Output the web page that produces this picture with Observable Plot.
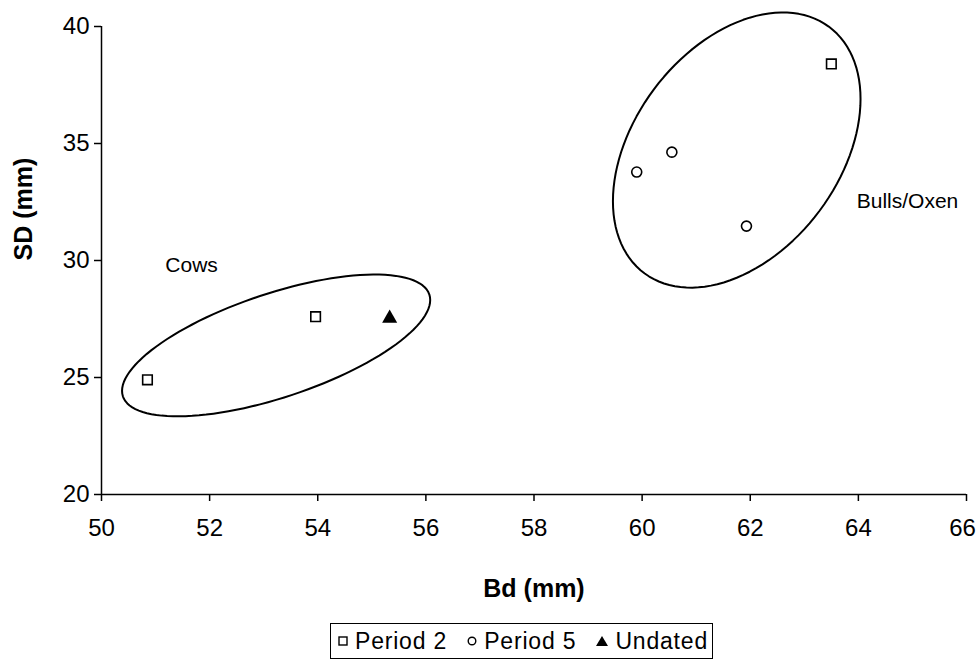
<!DOCTYPE html>
<html>
<head>
<meta charset="utf-8">
<script src="https://cdn.jsdelivr.net/npm/d3@7"></script>
<script src="https://cdn.jsdelivr.net/npm/@observablehq/plot@0.6"></script>
<style>
  html, body { margin: 0; padding: 0; background: #fff; }
  body { width: 976px; height: 667px; position: relative; font-family: "Liberation Sans", Arial, sans-serif; }
  #chart svg { display: block; }
  .legend {
    position: absolute; left: 330px; top: 623px; width: 383px; height: 36px;
    border: 1.5px solid #000; box-sizing: border-box;
    display: flex; align-items: center; justify-content: space-between; padding: 0 4px 0 6px;
    font-size: 23px; letter-spacing: 0.8px; color: #000; white-space: nowrap;
  }
  .legend .item { display: flex; align-items: center; }
  .legend svg { margin-right: 6px; }
</style>
</head>
<body>
<div id="chart"></div>
<div class="legend" id="legend"></div>
<script>
// Measurements (mm): Bd = distal breadth, SD = shaft depth
const period2Bd = [50.85, 53.96, 63.5];
const period2SD = [24.9, 27.6, 38.4];
const period5Bd = [59.9, 60.55, 61.93];
const period5SD = [33.78, 34.63, 31.47];
const undatedBd = [55.33];
const undatedSD = [27.53];

const seriesNames = ["Period 2", "Period 5", "Undated"];
const xTicks = [50, 52, 54, 56, 58, 60, 62, 64, 66];
const yTicks = [20, 25, 30, 35, 40];

// Group outlines: centre, half-extents along each axis and phase offset (data units)
const groupNames = ["Cows", "Bulls/Oxen"];
const groupCx = [53.23, 61.75];
const groupCy = [26.37, 34.72];
const groupRx = [2.85, 2.29];
const groupRy = [3.03, 5.88];
const groupPhase = [0.876, 1.19];
const groupLabelX = [51.18, 63.97];
const groupLabelY = [29.8, 32.55];

const points = [
  ...period2Bd.map((bd, i) => ({series: "Period 2", bd, sd: period2SD[i]})),
  ...period5Bd.map((bd, i) => ({series: "Period 5", bd, sd: period5SD[i]})),
  ...undatedBd.map((bd, i) => ({series: "Undated", bd, sd: undatedSD[i]}))
];

const outline = [];
groupNames.forEach((g, k) => {
  const n = 120;
  for (let j = 0; j <= n; ++j) {
    const t = (2 * Math.PI * j) / n;
    outline.push({
      group: g,
      bd: groupCx[k] + groupRx[k] * Math.cos(t),
      sd: groupCy[k] + groupRy[k] * Math.cos(t - groupPhase[k])
    });
  }
});

const labels = groupNames.map((g, k) => ({text: g, bd: groupLabelX[k], sd: groupLabelY[k]}));

const font = "Liberation Sans, Arial, sans-serif";
const lastTick = xTicks[xTicks.length - 1];

const chart = Plot.plot({
  width: 976,
  height: 615,
  marginLeft: 101,
  marginRight: 10,
  marginTop: 26,
  marginBottom: 121,
  style: {fontFamily: font, fontSize: "24px", color: "#000", background: "#fff"},
  x: {domain: [50, 66]},
  y: {domain: [20, 40]},
  marks: [
    Plot.axisX({ticks: xTicks, tickSize: 7, tickPadding: 17, tickFormat: d => d === lastTick ? "" : String(d), label: null, fontSize: 24, strokeWidth: 1.5}),
    Plot.axisX({ticks: [lastTick], tickSize: 0, tickPadding: 24, dx: -4, tickFormat: d => String(d), label: null, fontSize: 24}),
    Plot.axisY({ticks: yTicks, tickSize: 7, tickPadding: 5, tickFormat: d => String(d), label: null, fontSize: 24, strokeWidth: 1.5}),
    Plot.ruleY([20], {stroke: "#000", strokeWidth: 1.5}),
    Plot.ruleX([50], {stroke: "#000", strokeWidth: 1.5}),
    Plot.text(["Bd (mm)"], {frameAnchor: "bottom", dy: 102, fontSize: 25, fontWeight: "bold", text: d => d}),
    Plot.text(["SD (mm)"], {frameAnchor: "left", dx: -78, rotate: -90, fontSize: 25, fontWeight: "bold", text: d => d}),
    Plot.line(outline, {x: "bd", y: "sd", z: "group", stroke: "#000", strokeWidth: 2, curve: "linear"}),
    Plot.text(labels, {x: "bd", y: "sd", text: "text", textAnchor: "start", fontSize: 21}),
    Plot.dot(points.filter(d => d.series === "Period 2"), {x: "bd", y: "sd", symbol: "square", r: 5.4, fill: "#fff", stroke: "#000", strokeWidth: 1.6}),
    Plot.dot(points.filter(d => d.series === "Period 5"), {x: "bd", y: "sd", symbol: "circle", r: 5, fill: "#fff", stroke: "#000", strokeWidth: 1.6}),
    Plot.dot(points.filter(d => d.series === "Undated"), {x: "bd", y: "sd", symbol: "triangle", r: 5.6, fill: "#000", stroke: "none"})
  ]
});
document.getElementById("chart").appendChild(chart);

// Legend row
const legend = document.getElementById("legend");
const glyphs = {
  "Period 2": '<svg width="12" height="12" viewBox="0 0 12 12"><rect x="2" y="2" width="8" height="8" fill="#fff" stroke="#000" stroke-width="1.4"/></svg>',
  "Period 5": '<svg width="12" height="12" viewBox="0 0 12 12"><circle cx="6" cy="6" r="3.8" fill="#fff" stroke="#000" stroke-width="1.4"/></svg>',
  "Undated": '<svg width="14" height="12" viewBox="0 0 14 12"><path d="M7,1 L13,11 L1,11 Z" fill="#000"/></svg>'
};
seriesNames.forEach(name => {
  const item = document.createElement("div");
  item.className = "item";
  item.innerHTML = glyphs[name] + "<span>" + name + "</span>";
  legend.appendChild(item);
});
</script>
</body>
</html>
